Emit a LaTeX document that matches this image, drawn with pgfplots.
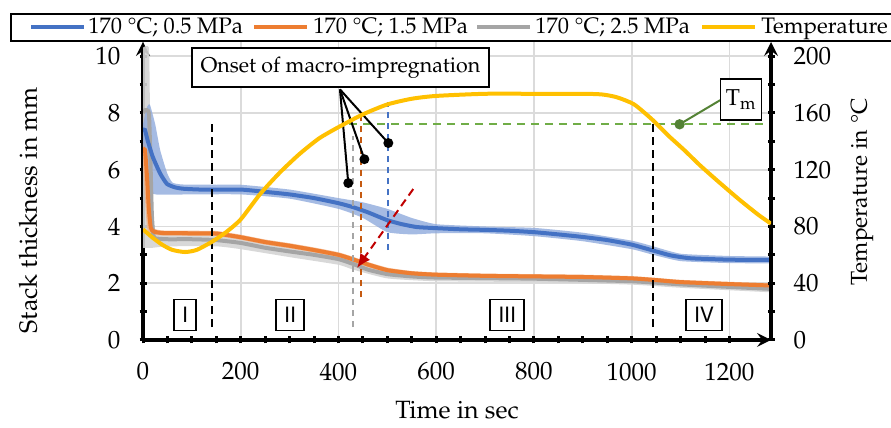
\documentclass[border=0pt]{standalone}
\usepackage[T1]{fontenc}
\usepackage{mathpazo}
\usepackage[scaled=0.92]{helvet}
\usepackage{pgfplots}
\pgfplotsset{compat=1.18}
\usepgfplotslibrary{fillbetween}
\usetikzlibrary{arrows.meta}
\definecolor{cblue}{HTML}{4472C4}
\definecolor{corange}{HTML}{ED7D31}
\definecolor{cgray}{HTML}{A5A5A5}
\definecolor{cyellow}{HTML}{FFC000}
\definecolor{cgreen}{HTML}{70AD47}
\definecolor{cdgreen}{HTML}{548235}
\definecolor{cred}{HTML}{C00000}
\definecolor{cdorange}{HTML}{C55A11}
\definecolor{lblue}{HTML}{8FAADC}
\definecolor{lorange}{HTML}{F4B183}
\definecolor{lgray}{HTML}{D4D4D4}
\tikzset{phase/.style={draw, line width=0.8pt, fill=white, minimum height=15.5pt, inner xsep=4pt, inner ysep=0pt, font=\sffamily\fontsize{11.5}{13}\selectfont}}
\pgfplotsset{
  common/.style={
    width=314pt, height=149pt, scale only axis,
    at={(71.5pt,44pt)}, anchor=south west,
    xmin=0, xmax=1285,
    axis line style={line width=2pt, -{Latex[length=7pt,width=7pt]}},
    tick align=outside, major tick length=3.5pt, minor tick length=3.5pt,
    every tick/.style={black, line width=1.5pt},
    tick label style={font=\fontsize{12.5}{14}\selectfont},
    label style={font=\fontsize{12.5}{14}\selectfont},
    /pgf/number format/1000 sep={},
  }
}
\begin{document}
\begin{tikzpicture}[font=\fontsize{11.5}{13}\selectfont]
\begin{axis}[common,
  ymin=0, ymax=10.5,
  axis x line=bottom, axis y line=left,
  xtick={0,200,...,1200}, minor x tick num=3,
  ytick={0,2,...,10}, minor y tick num=1,
  grid=major, major grid style={gray!28, line width=0.8pt},
  xticklabel style={yshift=-6pt},
  yticklabel style={xshift=-6pt},
  xlabel={Time in sec}, ylabel={Stack thickness in mm},
  xlabel style={at={(axis description cs:0.5,-0.235)}, anchor=center},
  ylabel style={at={(axis description cs:-0.183,0.436)}, anchor=center},
]
% gray band
\addplot[name path=gu, draw=none, forget plot, smooth, tension=0.3] coordinates {(0,10.3)(12,10.3)(14,8.5)(17,6.0)(20,4.5)(26,3.85)(50,3.75)(150,3.72)(200,3.63)(300,3.32)(400,3.04)(430,2.87)(500,2.45)(600,2.32)(800,2.28)(1000,2.19)(1100,2.08)(1285,1.92)};
\addplot[name path=gl, draw=none, forget plot, smooth, tension=0.3] coordinates {(0,3.25)(20,3.25)(50,3.3)(150,3.3)(200,3.2)(300,2.92)(400,2.65)(430,2.48)(500,2.17)(600,2.07)(800,2.04)(1000,1.95)(1100,1.84)(1285,1.68)};
\addplot[lgray, opacity=0.9, forget plot] fill between[of=gu and gl];
% orange band
\addplot[name path=ou, draw=none, forget plot, smooth, tension=0.3] coordinates {(0,6.9)(4,7.0)(8,6.5)(12,5.5)(16,4.6)(22,3.95)(40,3.86)(100,3.85)(150,3.84)(200,3.71)(250,3.54)(300,3.41)(350,3.26)(400,3.09)(430,2.93)(460,2.75)(500,2.55)(550,2.43)(600,2.38)(700,2.34)(800,2.32)(900,2.3)(1000,2.25)(1050,2.19)(1100,2.12)(1200,2.05)(1285,2.0)};
\addplot[name path=ol, draw=none, forget plot, smooth, tension=0.3] coordinates {(0,6.3)(4,5.0)(8,4.0)(12,3.72)(16,3.7)(22,3.7)(40,3.68)(100,3.67)(150,3.66)(200,3.53)(250,3.36)(300,3.23)(350,3.08)(400,2.91)(430,2.75)(460,2.57)(500,2.37)(550,2.27)(600,2.22)(700,2.18)(800,2.16)(900,2.14)(1000,2.09)(1050,2.03)(1100,1.96)(1200,1.89)(1285,1.84)};
\addplot[lorange, opacity=0.8, forget plot] fill between[of=ou and ol];
% blue band
\addplot[name path=bu, draw=none, forget plot, smooth, tension=0.3] coordinates {(0,7.6)(8,8.2)(14,8.3)(25,7.6)(35,6.7)(49,5.9)(60,5.55)(80,5.48)(150,5.47)(200,5.47)(300,5.3)(400,5.0)(450,4.85)(500,4.62)(550,4.3)(600,4.08)(700,4.0)(800,3.95)(900,3.78)(1000,3.5)(1040,3.32)(1100,3.04)(1200,2.96)(1285,2.94)};
\addplot[name path=bl, draw=none, forget plot, smooth, tension=0.3] coordinates {(0,7.0)(5,6.0)(10,5.4)(15,5.2)(30,5.12)(100,5.13)(200,5.13)(300,4.98)(400,4.62)(450,4.3)(500,3.8)(550,3.72)(600,3.76)(700,3.76)(800,3.66)(900,3.48)(1000,3.2)(1040,3.02)(1100,2.78)(1200,2.71)(1285,2.7)};
\addplot[lblue, opacity=0.8, forget plot] fill between[of=bu and bl];
% means
\addplot[cgray, line width=2pt, forget plot, smooth, tension=0.3] coordinates {(0,8.0)(4,8.1)(12,8.0)(15,6.5)(18,4.5)(21,3.7)(26,3.58)(50,3.55)(100,3.55)(150,3.52)(200,3.42)(250,3.25)(300,3.12)(350,3.0)(400,2.85)(430,2.68)(460,2.48)(500,2.32)(550,2.24)(600,2.2)(800,2.16)(1000,2.07)(1100,1.96)(1200,1.87)(1285,1.8)};
\addplot[corange, line width=2pt, forget plot, smooth, tension=0.3] coordinates {(0,6.6)(4,6.7)(8,5.8)(12,4.6)(16,3.95)(22,3.82)(40,3.77)(100,3.76)(150,3.75)(200,3.62)(250,3.45)(300,3.32)(350,3.17)(400,3.0)(430,2.84)(460,2.66)(500,2.46)(550,2.35)(600,2.3)(700,2.26)(800,2.24)(900,2.22)(1000,2.17)(1050,2.11)(1100,2.04)(1200,1.97)(1285,1.92)};
\addplot[cblue, line width=2pt, forget plot, smooth, tension=0.3] coordinates {(0,7.4)(4,7.4)(10,7.0)(20,6.45)(35,5.87)(49,5.5)(65,5.38)(82,5.33)(120,5.3)(200,5.3)(250,5.22)(300,5.13)(350,5.0)(400,4.82)(430,4.68)(460,4.5)(500,4.22)(530,4.08)(560,3.98)(600,3.94)(650,3.9)(700,3.88)(750,3.85)(800,3.8)(850,3.72)(900,3.63)(950,3.52)(1000,3.36)(1040,3.17)(1080,2.98)(1120,2.88)(1200,2.83)(1285,2.82)};
% phase separators
\draw[black, line width=1pt, dash pattern=on 4pt off 2.5pt] (axis cs:141,0.45) -- (axis cs:141,7.75);
\draw[black, line width=1pt, dash pattern=on 4pt off 2.5pt] (axis cs:1043,0.45) -- (axis cs:1043,7.75);
% onset lines
\draw[cblue, line width=1pt, dash pattern=on 3pt off 2.5pt] (axis cs:502,3.17) -- (axis cs:502,8.4);
\draw[cdorange, line width=1pt, dash pattern=on 3pt off 2.5pt] (axis cs:446,1.5) -- (axis cs:446,7.85);
\draw[cgray, line width=1pt, dash pattern=on 3pt off 2.5pt] (axis cs:429,0.45) -- (axis cs:429,7.2);
% Tm line
\draw[cgreen, line width=1pt, dash pattern=on 4pt off 3pt] (axis cs:422,7.6) -- (axis cs:1285,7.6);
\draw[cdgreen, line width=1pt] (axis cs:1098,7.6) -- (axis cs:1181,8.45);
\fill[cdgreen] (axis cs:1098,7.6) circle (2.6pt);
\node[draw, line width=0.8pt, fill=white, minimum width=20.5pt, minimum height=20.5pt, inner sep=0pt, font=\fontsize{11.5}{13}\selectfont] at (axis cs:1224,8.47) {T$_{\mathrm{m}}$};
% red arrow
\draw[cred, line width=1pt, dash pattern=on 4pt off 2.5pt, -{Latex[length=7pt,width=6pt]}] (axis cs:553,5.32) -- (axis cs:438,2.54);
% callout
\draw[black, line width=1pt] (axis cs:403,8.83) -- (axis cs:420,5.53);
\draw[black, line width=1pt] (axis cs:403,8.83) -- (axis cs:453,6.37);
\draw[black, line width=1pt] (axis cs:403,8.83) -- (axis cs:502,6.94);
\fill (axis cs:420,5.53) circle (2.5pt);
\fill (axis cs:453,6.37) circle (2.5pt);
\fill (axis cs:502,6.94) circle (2.5pt);
\node[draw, line width=0.8pt, fill=white, minimum width=148.5pt, minimum height=19.5pt, inner sep=0pt, font=\fontsize{10.7}{13}\selectfont] at (axis cs:404,9.6) {Onset of macro-impregnation};
% phase labels
\node[phase] at (axis cs:86,0.88) {I};
\node[phase] at (axis cs:301,0.88) {II};
\node[phase] at (axis cs:745,0.88) {III};
\node[phase] at (axis cs:1148,0.88) {IV};
\end{axis}
\begin{axis}[common,
  ymin=0, ymax=210,
  axis x line=none, axis y line=right,
  ytick={0,40,...,200}, minor y tick num=1,
  yticklabel style={xshift=6pt},
  ylabel={Temperature in \textdegree C},
  ylabel style={at={(axis description cs:1.145,0.497)}, anchor=center},
]
\addplot[cyellow, line width=2pt, smooth, tension=0.4] coordinates {(0,78)(20,72)(40,67)(60,63.5)(86,62)(110,63.5)(140,69)(170,76)(200,85)(240,103)(280,118)(320,131)(360,142)(400,150)(450,159)(500,166)(550,170)(600,172)(700,173.5)(800,173.5)(900,173.5)(940,173)(970,171)(1005,166)(1043,155)(1075,144)(1107,134)(1140,123)(1176,112)(1220,99)(1260,88)(1285,82)};
\end{axis}
% legend
\draw[line width=1pt] (5.5pt,193.5pt) rectangle (447pt,207pt);
\begin{scope}[font=\fontsize{11.2}{13}\selectfont]
\draw[cblue, line width=2pt] (15.5pt,200.3pt) -- (42pt,200.3pt);
\node[anchor=base west, inner sep=0pt] at (44pt,197.2pt) {170 \textdegree C; 0.5 MPa};
\draw[corange, line width=2pt] (127pt,200.3pt) -- (153.5pt,200.3pt);
\node[anchor=base west, inner sep=0pt] at (156.5pt,197.2pt) {170 \textdegree C; 1.5 MPa};
\draw[cgray, line width=2pt] (238.5pt,200.3pt) -- (265pt,200.3pt);
\node[anchor=base west, inner sep=0pt] at (267.5pt,197.2pt) {170 \textdegree C; 2.5 MPa};
\draw[cyellow, line width=2pt] (351pt,200.3pt) -- (377.5pt,200.3pt);
\node[anchor=base west, inner sep=0pt] at (380.5pt,197.2pt) {Temperature};
\end{scope}
\pgfresetboundingbox
\path[use as bounding box] (0,0) rectangle (445.5pt,214pt);
\end{tikzpicture}
\end{document}
